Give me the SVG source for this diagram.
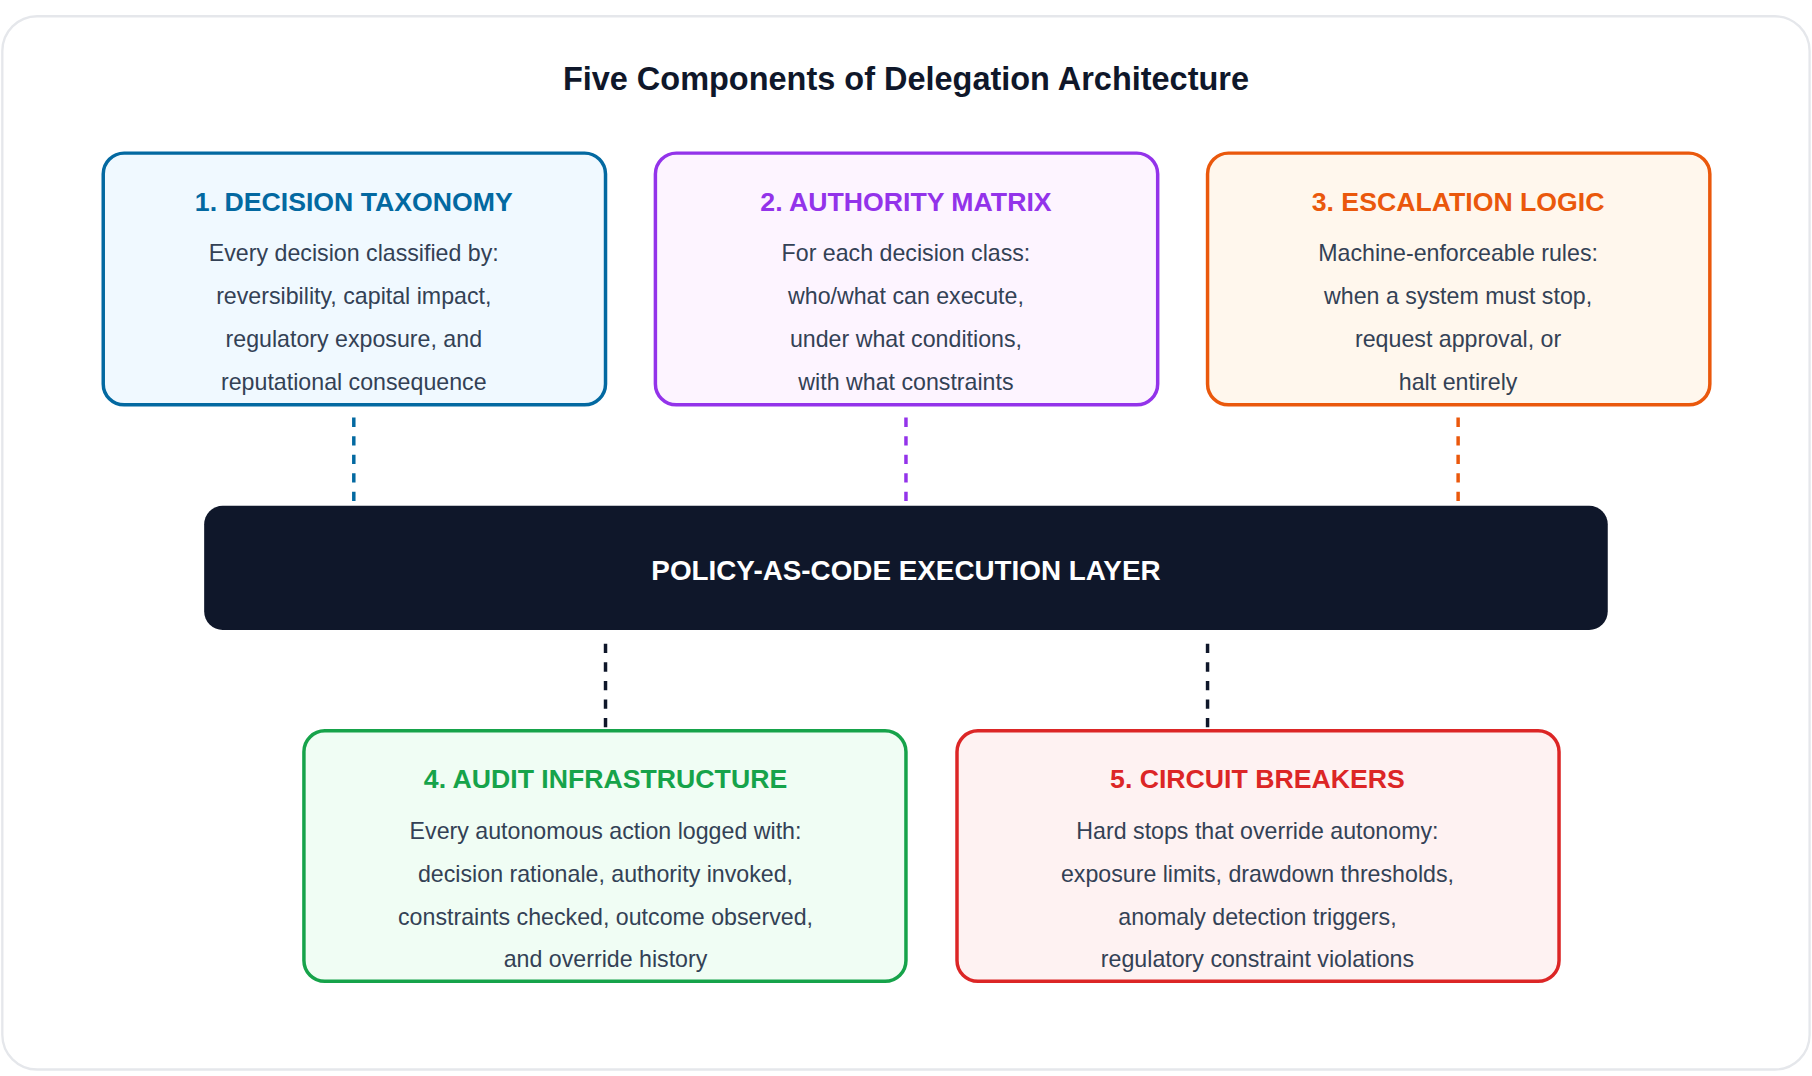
<svg xmlns="http://www.w3.org/2000/svg" width="1812" height="1076" viewBox="0 0 1812 1076">
<style>
text{font-family:"Liberation Sans",Arial,sans-serif;text-anchor:middle}
.t{font-size:28px;font-weight:bold;fill:#0f172a}
.h{font-size:23px;font-weight:bold}
.b{font-size:20px;fill:#334155}
.box{stroke-width:3}
.dash{stroke-width:3;stroke-dasharray:8 8;fill:none}
</style>
<rect width="1812" height="1076" fill="#fff"/>
<g transform="scale(1.16)">
<rect x="2" y="14" width="1558" height="908" rx="30" fill="#fff" stroke="#e5e7eb" stroke-width="2"/>
<text class="t" x="781" y="78">Five Components of Delegation Architecture</text>
<g id="connectors">
<line class="dash" x1="305" y1="360" x2="305" y2="436" stroke="#0369a1"/>
<line class="dash" x1="781" y1="360" x2="781" y2="436" stroke="#9333ea"/>
<line class="dash" x1="1257" y1="360" x2="1257" y2="436" stroke="#ea580c"/>
<line class="dash" x1="522" y1="555" x2="522" y2="630" stroke="#0f172a"/>
<line class="dash" x1="1041" y1="555" x2="1041" y2="630" stroke="#0f172a"/>
</g>
<g id="n1">
<rect class="box" x="89" y="132" width="433" height="217" rx="18" fill="#f0f9ff" stroke="#0369a1"/>
<text class="h" x="305" y="182" fill="#0369a1">1. DECISION TAXONOMY</text>
<text class="b" x="305" y="225">Every decision classified by:</text>
<text class="b" x="305" y="262">reversibility, capital impact,</text>
<text class="b" x="305" y="299">regulatory exposure, and</text>
<text class="b" x="305" y="336">reputational consequence</text>
</g>
<g id="n2">
<rect class="box" x="565" y="132" width="433" height="217" rx="18" fill="#fdf4ff" stroke="#9333ea"/>
<text class="h" x="781" y="182" fill="#9333ea">2. AUTHORITY MATRIX</text>
<text class="b" x="781" y="225">For each decision class:</text>
<text class="b" x="781" y="262">who/what can execute,</text>
<text class="b" x="781" y="299">under what conditions,</text>
<text class="b" x="781" y="336">with what constraints</text>
</g>
<g id="n3">
<rect class="box" x="1041" y="132" width="433" height="217" rx="18" fill="#fff7ed" stroke="#ea580c"/>
<text class="h" x="1257" y="182" fill="#ea580c">3. ESCALATION LOGIC</text>
<text class="b" x="1257" y="225">Machine-enforceable rules:</text>
<text class="b" x="1257" y="262">when a system must stop,</text>
<text class="b" x="1257" y="299">request approval, or</text>
<text class="b" x="1257" y="336">halt entirely</text>
</g>
<g id="policy">
<rect x="176" y="436" width="1210" height="107" rx="16" fill="#0f172a"/>
<text x="781" y="500" font-size="24" font-weight="bold" fill="#fff">POLICY-AS-CODE EXECUTION LAYER</text>
</g>
<g id="n4">
<rect class="box" x="262" y="630" width="519" height="216" rx="18" fill="#f0fdf4" stroke="#16a34a"/>
<text class="h" x="522" y="679" fill="#16a34a">4. AUDIT INFRASTRUCTURE</text>
<text class="b" x="522" y="723">Every autonomous action logged with:</text>
<text class="b" x="522" y="760">decision rationale, authority invoked,</text>
<text class="b" x="522" y="797">constraints checked, outcome observed,</text>
<text class="b" x="522" y="834">and override history</text>
</g>
<g id="n5">
<rect class="box" x="825" y="630" width="519" height="216" rx="18" fill="#fef2f2" stroke="#dc2626"/>
<text class="h" x="1084" y="679" fill="#dc2626">5. CIRCUIT BREAKERS</text>
<text class="b" x="1084" y="723">Hard stops that override autonomy:</text>
<text class="b" x="1084" y="760">exposure limits, drawdown thresholds,</text>
<text class="b" x="1084" y="797">anomaly detection triggers,</text>
<text class="b" x="1084" y="834">regulatory constraint violations</text>
</g>
</g>
</svg>
